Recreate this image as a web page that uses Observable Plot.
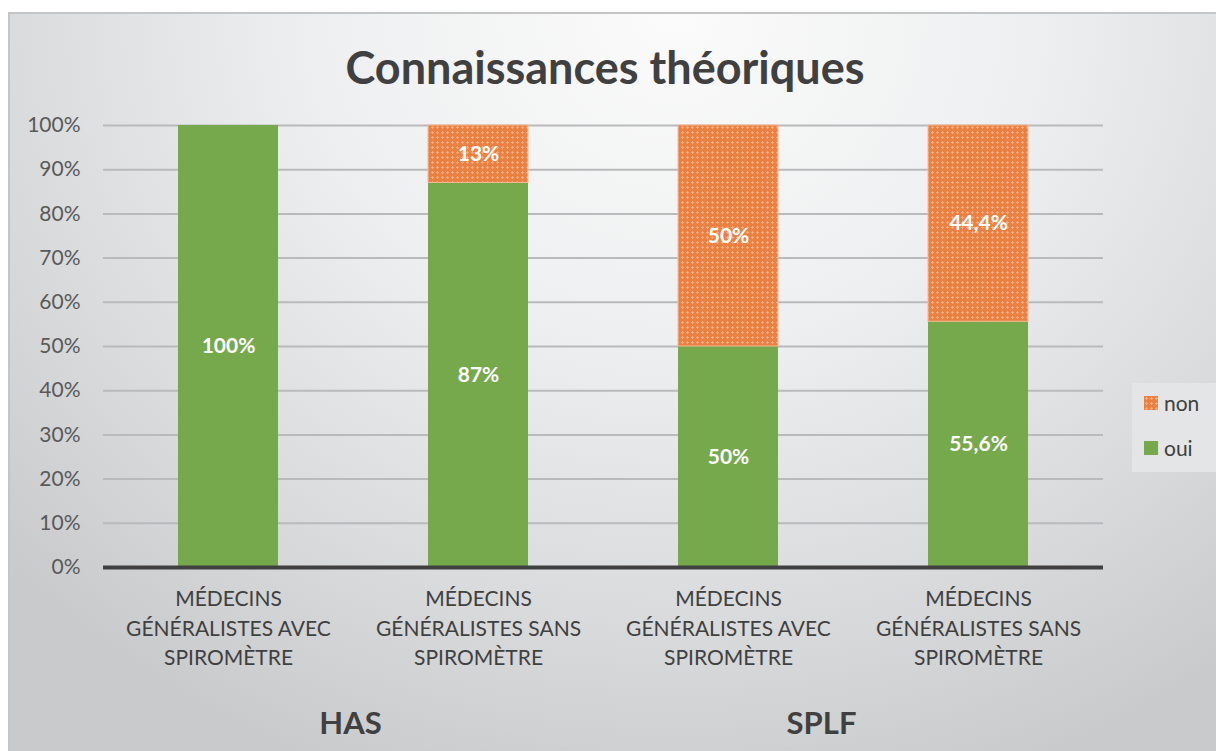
<!DOCTYPE html>
<html>
<head>
<meta charset="utf-8">
<script src="https://cdn.jsdelivr.net/npm/d3@7"></script>
<script src="https://cdn.jsdelivr.net/npm/@observablehq/plot@0.6"></script>
<style>
  html, body { margin: 0; padding: 0; background: #fff; }
  #page { position: relative; width: 1216px; height: 751px; overflow: hidden; font-family: Lato, "Open Sans", sans-serif; }
  #frame { position: absolute; left: 8px; top: 12px; width: 1210px; height: 745px;
    border-top: 2px solid #c4c5c7; border-left: 2px solid #c4c5c7; box-sizing: border-box;
    background: radial-gradient(ellipse 75% 110% at 55% 0%, #fbfbfb 0%, #eeeff0 40%, #d9dadc 75%, #c9cacc 100%); }
  #title { position: absolute; left: 0; width: 1210px; top: 40px; text-align: center;
    font-weight: 700; font-size: 45px; color: #404040; }
  #chart { position: absolute; left: 0; top: 100px; }
  #legend { position: absolute; left: 1132px; top: 383px; width: 84px; height: 89px;
    background: #e4e5e7; font-size: 21px; color: #404040; }
  .li { position: absolute; left: 12px; display: flex; align-items: center; }
  .li svg { margin-right: 6px; }
</style>
</head>
<body>
<div id="page">
  <div id="frame"></div>
  <div id="title">Connaissances théoriques</div>
  <div id="chart"></div>
  <div id="legend">
    <div class="li" style="top:7px"><svg width="14" height="14"><rect width="14" height="14" fill="url(#patNon)"/></svg>non</div>
    <div class="li" style="top:52px"><svg width="14" height="14"><rect width="14" height="14" fill="#76a94c"/></svg>oui</div>
  </div>
</div>
<script>
const groups = ["HAS", "HAS", "SPLF", "SPLF"];
const categories = [
  "MÉDECINS\nGÉNÉRALISTES AVEC\nSPIROMÈTRE",
  "MÉDECINS\nGÉNÉRALISTES SANS\nSPIROMÈTRE",
  "MÉDECINS\nGÉNÉRALISTES AVEC\nSPIROMÈTRE",
  "MÉDECINS\nGÉNÉRALISTES SANS\nSPIROMÈTRE"
];
const series = ["oui", "non"];
const oui = [100, 87, 50, 55.6];
const non = [0, 13, 50, 44.4];
const yTicks = [0, 10, 20, 30, 40, 50, 60, 70, 80, 90, 100];

const rows = [];
categories.forEach((c, i) => {
  rows.push({i, serie: "oui", v: oui[i]});
  rows.push({i, serie: "non", v: non[i]});
});
const fmt = v => String(v).replace(".", ",") + "%";
const groupRows = [{i: 0, g: groups[0]}, {i: 2, g: groups[2]}];

const green = "#76a94c";
const chart = Plot.plot({
  width: 1216,
  height: 651,
  marginLeft: 103,
  marginRight: 113,
  marginTop: 25,
  marginBottom: 184,
  style: {background: "transparent", fontFamily: "Lato, 'Open Sans', sans-serif"},
  x: {domain: d3.range(categories.length), paddingInner: 0.6, paddingOuter: 0.3, axis: null},
  y: {domain: [0, 100], axis: null},
  color: {domain: series, range: [green, "url(#patNon)"]},
  marks: [
    Plot.gridY(yTicks, {stroke: "#b9babc", strokeWidth: 2, strokeOpacity: 1}),
    Plot.axisY(yTicks, {tickSize: 0, tickPadding: 23, tickFormat: d => d + "%", fontSize: 21, fill: "#595959", label: null}),
    Plot.barY(rows, {x: "i", y: "v", z: "serie", fill: "serie", order: series, stroke: d => d.serie === "non" ? "#f6b993" : "none", strokeWidth: 1}),
    Plot.text(rows, Plot.stackY({x: "i", y: "v", z: "serie", order: series, filter: d => d.v > 0, text: d => fmt(d.v), fill: "white", fontWeight: 700, fontSize: 21})),
    Plot.ruleY([0], {stroke: "#404040", strokeWidth: 4}),
    Plot.axisX(d3.range(categories.length), {tickSize: 0, tickPadding: 18, tickFormat: i => categories[i], fontSize: 21, fill: "#404040", lineHeight: 1.4, label: null}),
    Plot.text(groupRows.slice(0, 1), {x: "i", text: "g", frameAnchor: "bottom", dy: 166, dx: 122, fontSize: 31, fontWeight: 700, fill: "#404040"}),
    Plot.text(groupRows.slice(1), {x: "i", text: "g", frameAnchor: "bottom", dy: 166, dx: 93, fontSize: 31, fontWeight: 700, fill: "#404040"})
  ]
});

const defs = `<defs><pattern id="patNon" width="5" height="5" patternUnits="userSpaceOnUse">
  <rect width="5" height="5" fill="#ea8142"/>
  <rect x="2" y="1" width="1" height="3" fill="#f5ad80"/>
  <rect x="1" y="2" width="3" height="1" fill="#f5ad80"/>
</pattern></defs>`;
chart.insertAdjacentHTML("afterbegin", defs);
document.getElementById("chart").appendChild(chart);
</script>
</body>
</html>
